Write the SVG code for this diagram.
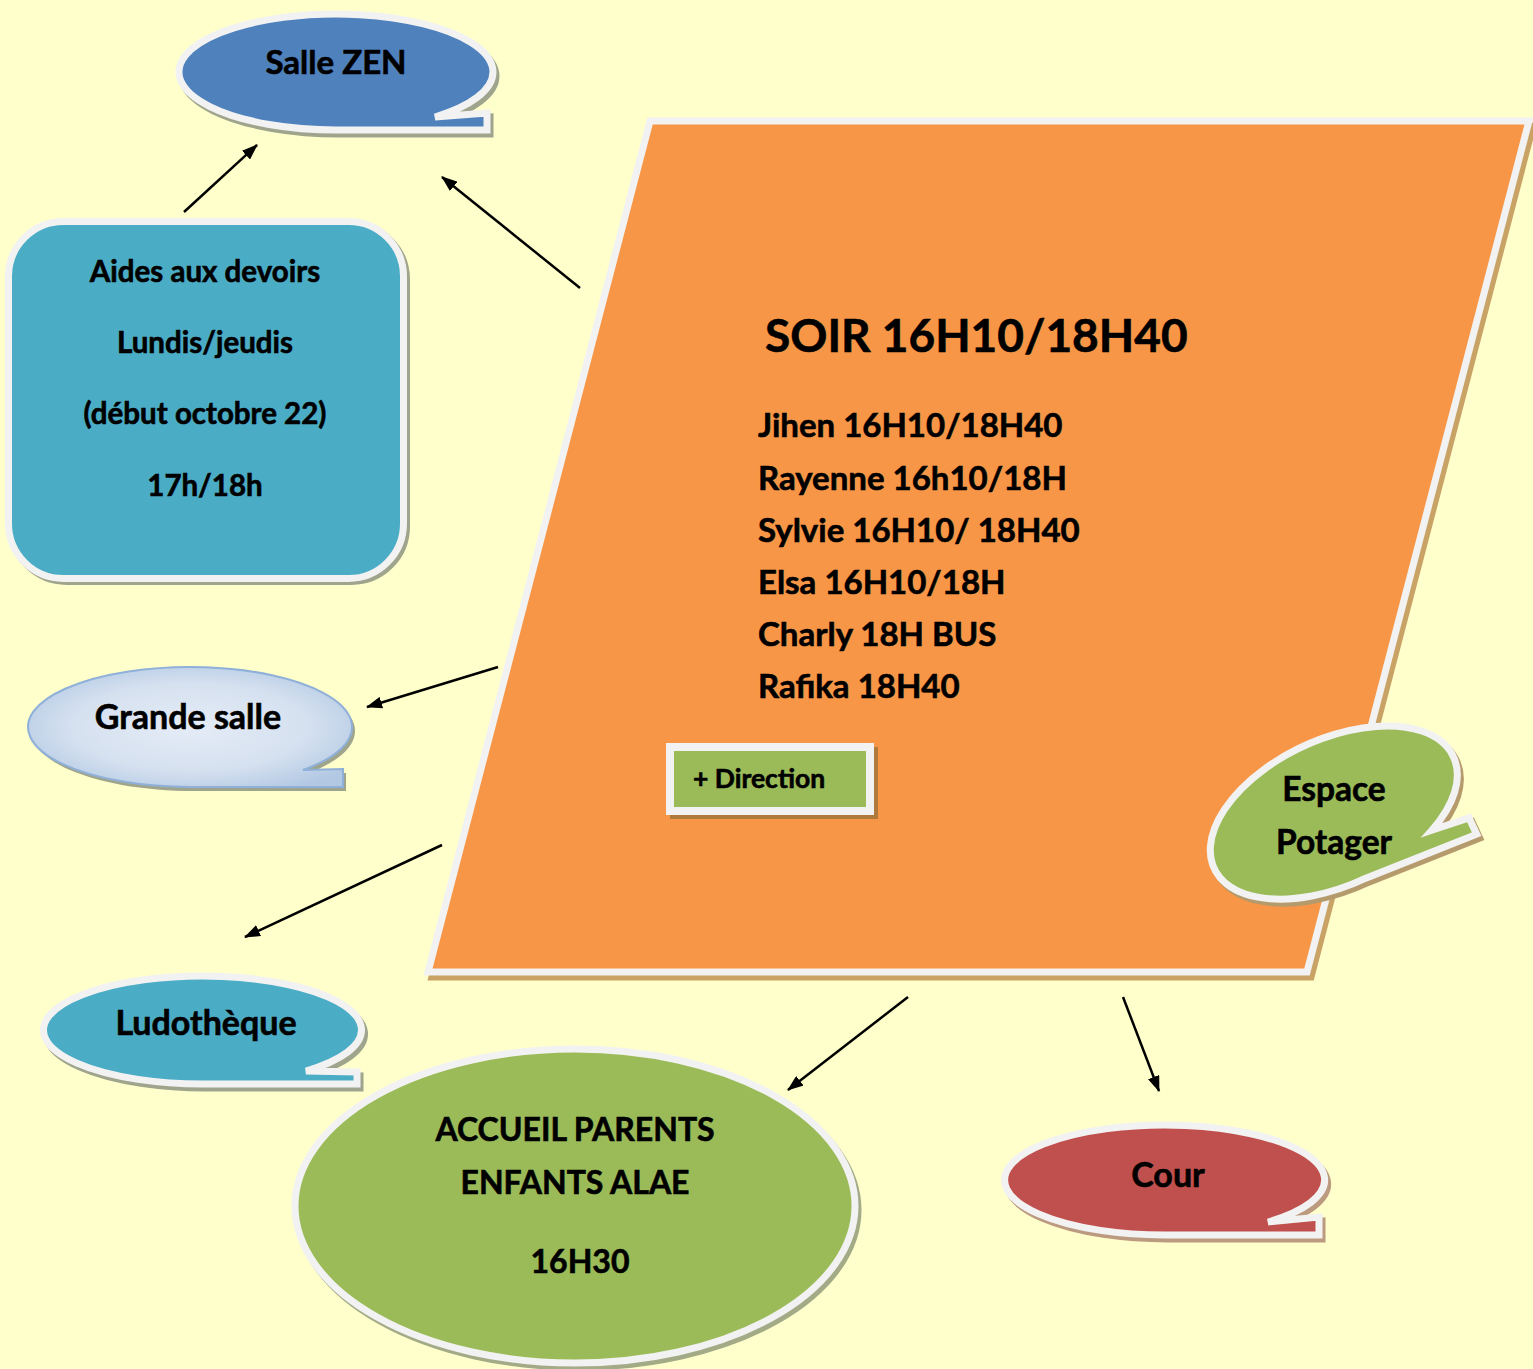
<svg xmlns="http://www.w3.org/2000/svg" width="1533" height="1369" viewBox="0 0 1533 1369">
<defs>
<style>
.t{font-family:Lato,"Open Sans","Liberation Sans",sans-serif;font-weight:bold;fill:#000;stroke:#000;stroke-width:0.6}
.c{text-anchor:middle}
.w{stroke:#f2f2f2;stroke-width:7;stroke-linejoin:miter}
.ln{stroke:#000;stroke-width:2.5;fill:none}
</style>
<radialGradient id="gs" cx="50%" cy="50%" r="60%">
<stop offset="0" stop-color="#e4ecf6"/>
<stop offset="0.6" stop-color="#d6e1f0"/>
<stop offset="1" stop-color="#b2c8e3"/>
</radialGradient>
<marker id="ah" markerUnits="userSpaceOnUse" markerWidth="16" markerHeight="12" refX="15" refY="6" orient="auto">
<path d="M0,0 L16,6 L0,12 Z" fill="#000"/>
</marker>
</defs>
<rect width="1533" height="1369" fill="#ffffcc"/>

<g id="salle-zen">
<path transform="translate(3,4)" d="M435,117 L487,113 L487,130 L336,130 A157 58 0 1 1 435,117 Z" fill="#9fa48c" stroke="#9fa48c" stroke-width="7"/>
<path class="w" d="M435,117 L487,113 L487,130 L336,130 A157 58 0 1 1 435,117 Z" fill="#4f81bd"/>
<text class="t c" x="336" y="74" font-size="33">Salle ZEN</text>
</g>

<g id="aides">
<rect x="11.5" y="224.5" width="395" height="357" rx="55" fill="#9fa48c" stroke="#9fa48c" stroke-width="7"/>
<rect class="w" x="8.5" y="221.5" width="395" height="357" rx="55" fill="#4bacc6"/>
<text class="t c" x="205" y="282" font-size="29.5">Aides aux devoirs</text>
<text class="t c" x="205" y="353" font-size="29.5">Lundis/jeudis</text>
<text class="t c" x="205" y="424" font-size="29.5">(début octobre 22)</text>
<text class="t c" x="205" y="496" font-size="29.5">17h/18h</text>
</g>

<g id="soir">
<polygon points="654,126 1533,126 1311,977 432,977" fill="#c9a265" stroke="#c9a265" stroke-width="7"/>
<polygon class="w" points="650,121 1529,121 1307,972 428,972" fill="#f79646"/>
<text class="t" x="765" y="352" font-size="46">SOIR 16H10/18H40</text>
<text class="t" x="758" y="437" font-size="33">Jihen 16H10/18H40</text>
<text class="t" x="758" y="490" font-size="33">Rayenne 16h10/18H</text>
<text class="t" x="758" y="542" font-size="33">Sylvie 16H10/ 18H40</text>
<text class="t" x="758" y="594" font-size="33">Elsa 16H10/18H</text>
<text class="t" x="758" y="646" font-size="33">Charly 18H BUS</text>
<text class="t" x="758" y="698" font-size="33">Rafika 18H40</text>
</g>

<g id="direction">
<rect x="674" y="751" width="200" height="64" fill="#b07a3c" stroke="#b07a3c" stroke-width="8"/>
<rect x="670" y="747" width="200" height="64" fill="#9bbb59" stroke="#f2f2f2" stroke-width="8"/>
<text class="t" x="693" y="788" font-size="26.5">+ Direction</text>
</g>

<g id="grande-salle">
<path transform="translate(3,4)" d="M303,770 L343,769 L343,787 L191,787 A162 60 0 1 1 303,770 Z" fill="#9fa48c"/>
<path d="M303,770 L343,769 L343,787 L191,787 A162 60 0 1 1 303,770 Z" fill="url(#gs)" stroke="#8fb0d8" stroke-width="2"/>
<text class="t c" x="188" y="729" font-size="34">Grande salle</text>
</g>

<g id="ludotheque">
<path transform="translate(3,4)" d="M306,1071 L357,1072 L357,1084 L206,1084 A159 54 0 1 1 306,1071 Z" fill="#9fa48c" stroke="#9fa48c" stroke-width="7"/>
<path class="w" d="M306,1071 L357,1072 L357,1084 L206,1084 A159 54 0 1 1 306,1071 Z" fill="#4bacc6"/>
<text class="t c" x="206" y="1035" font-size="34">Ludothèque</text>
</g>

<g id="accueil">
<ellipse cx="578" cy="1210" rx="280" ry="157" fill="#a3aa86" stroke="#a3aa86" stroke-width="7"/>
<ellipse class="w" cx="575" cy="1206" rx="280" ry="157" fill="#9bbb59"/>
<text class="t c" x="575" y="1141" font-size="32">ACCUEIL PARENTS</text>
<text class="t c" x="575" y="1194" font-size="32">ENFANTS ALAE</text>
<text class="t c" x="580" y="1273" font-size="32">16H30</text>
</g>

<g id="cour">
<path transform="translate(3,4)" d="M1268,1222 L1319,1217 L1319,1235 L1169,1235 A160 55 0 1 1 1268,1222 Z" fill="#bb9a80" stroke="#bb9a80" stroke-width="7"/>
<path class="w" d="M1268,1222 L1319,1217 L1319,1235 L1169,1235 A160 55 0 1 1 1268,1222 Z" fill="#c0504d"/>
<text class="t c" x="1168" y="1187" font-size="34">Cour</text>
</g>

<g id="espace-potager">
<path transform="translate(1338,816) rotate(-25)" d="M80,57.5 L119,62 L119,80 L0,73 A132 73 0 1 1 80,57.5 Z" fill="#b59a6c" stroke="#b59a6c" stroke-width="7"/>
<path class="w" transform="translate(1335,812) rotate(-25)" d="M80,57.5 L119,62 L119,80 L0,73 A132 73 0 1 1 80,57.5 Z" fill="#9bbb59"/>
<text class="t c" x="1334" y="801" font-size="33.5">Espace</text>
<text class="t c" x="1334" y="854" font-size="33.5">Potager</text>
</g>

<g id="connectors">
<line class="ln" x1="184" y1="212" x2="257" y2="145" marker-end="url(#ah)"/>
<line class="ln" x1="580" y1="288" x2="442" y2="177" marker-end="url(#ah)"/>
<line class="ln" x1="498" y1="667" x2="367" y2="707" marker-end="url(#ah)"/>
<line class="ln" x1="442" y1="845" x2="245" y2="937" marker-end="url(#ah)"/>
<line class="ln" x1="908" y1="997" x2="788" y2="1090" marker-end="url(#ah)"/>
<line class="ln" x1="1123" y1="997" x2="1159" y2="1091" marker-end="url(#ah)"/>
</g>
</svg>
